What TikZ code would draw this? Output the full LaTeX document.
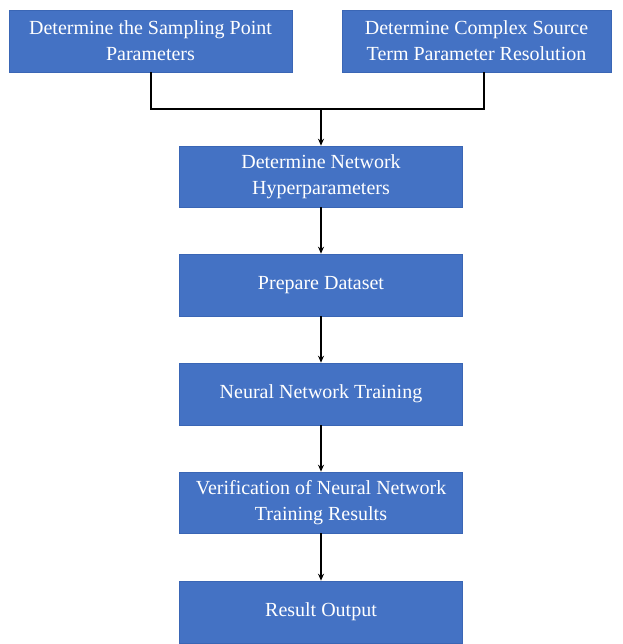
\documentclass[tikz,border=0pt]{standalone}
\usepackage{fontspec}
\setmainfont{Liberation Serif}
\usetikzlibrary{arrows.meta}
\definecolor{boxblue}{HTML}{4472C4}
\definecolor{boxedge}{HTML}{3A66B5}
\begin{document}
\begin{tikzpicture}[x=1pt,y=-1pt,
  box/.style={draw=boxedge,line width=0.6pt,fill=boxblue,text=white,inner sep=0pt,
    align=center,font=\fontsize{20}{26}\selectfont},
  conn/.style={draw=black,line width=1.5pt},
  arr/.style={conn,-{Stealth[length=7pt,width=6pt]}}]
\useasboundingbox (0,0) rectangle (622,644);
\node[box,minimum width=283pt,minimum height=62pt] (a) at (150.5,41) {Determine the Sampling Point\\Parameters};
\node[box,minimum width=269pt,minimum height=62pt] (b) at (476.5,41) {Determine Complex Source\\Term Parameter Resolution};
\node[box,minimum width=283pt,minimum height=61pt] (c) at (321,176.5) {Determine Network\\Hyperparameters};
\node[box,minimum width=283pt,minimum height=62pt] (d) at (321,285) {Prepare Dataset};
\node[box,minimum width=283pt,minimum height=62pt] (e) at (321,394) {Neural Network Training};
\node[box,minimum width=283pt,minimum height=61pt] (f) at (321,502.5) {Verification of Neural Network\\Training Results};
\node[box,minimum width=283pt,minimum height=62pt] (g) at (321,612) {Result Output};
\coordinate (jl) at (151,109);
\coordinate (jr) at (484,109);
\coordinate (jm) at (321,109);
\draw[conn] (a.south -| jl) -- (jl) -- (jr) -- (b.south -| jr);
\draw[arr] (jm) -- (c.north);
\draw[arr] (c) -- (d);
\draw[arr] (d) -- (e);
\draw[arr] (e) -- (f);
\draw[arr] (f) -- (g);
\end{tikzpicture}
\end{document}
